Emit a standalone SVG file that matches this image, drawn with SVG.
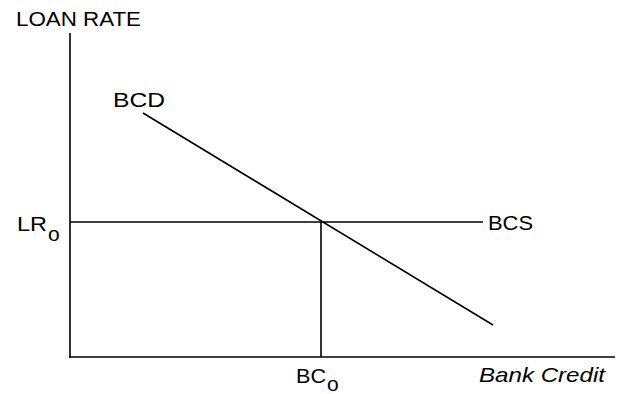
<svg xmlns="http://www.w3.org/2000/svg" width="617" height="394" viewBox="0 0 617 394">
<style>
.ln{stroke:#000;stroke-width:1.6;fill:none}
text{font-family:"Liberation Sans",Arial,sans-serif;font-size:21px;fill:#000}
</style>
<rect width="617" height="394" fill="#fff"/>
<g id="axes">
<line class="ln" x1="70" y1="33" x2="70" y2="358"/>
<line class="ln" x1="69" y1="357" x2="615" y2="357"/>
<text x="16" y="26" font-size="19" textLength="125" lengthAdjust="spacingAndGlyphs">LOAN RATE</text>
<text x="479" y="382" font-size="20" font-style="italic" textLength="126" lengthAdjust="spacingAndGlyphs">Bank Credit</text>
</g>
<g id="connectors">
<line id="BCD-line" class="ln" x1="143" y1="113" x2="493" y2="325"/>
<line id="BCS-line" class="ln" x1="70" y1="222" x2="483" y2="222"/>
<line id="BC0-line" class="ln" x1="321" y1="222" x2="321" y2="357"/>
</g>
<g id="BCD"><text x="113" y="107" textLength="52" lengthAdjust="spacingAndGlyphs">BCD</text></g>
<g id="BCS"><text x="488" y="230" textLength="45" lengthAdjust="spacingAndGlyphs">BCS</text></g>
<g id="LR0"><text x="17" y="231" textLength="30" lengthAdjust="spacingAndGlyphs">LR</text><text x="48" y="241">o</text></g>
<g id="BC0"><text x="296" y="383" textLength="30" lengthAdjust="spacingAndGlyphs">BC</text><text x="327" y="391">o</text></g>
</svg>
